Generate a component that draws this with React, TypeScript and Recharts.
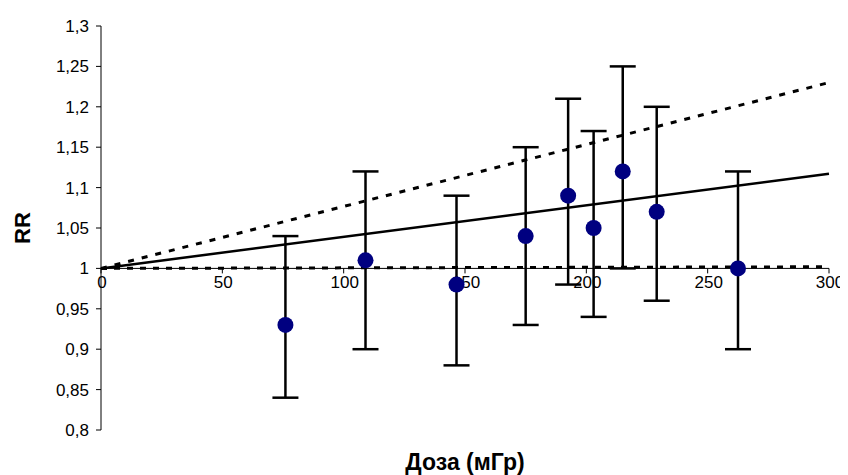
import React from "react";
import {
  ComposedChart,
  Scatter,
  ErrorBar,
  XAxis,
  YAxis,
  ReferenceLine,
  ReferenceDot,
} from "recharts";

// Dose (mGy) of each group
const doses = [76, 109, 146.5, 175, 192.5, 203, 215, 229, 262.5];
// Relative risk per group
const rrValues = [0.93, 1.01, 0.98, 1.04, 1.09, 1.05, 1.12, 1.07, 1.0];
// 95% confidence interval bounds
const ciLow = [0.84, 0.9, 0.88, 0.93, 0.98, 0.94, 1.0, 0.96, 0.9];
const ciHigh = [1.04, 1.12, 1.09, 1.15, 1.21, 1.17, 1.25, 1.2, 1.12];

// Linear fit and its confidence limits (dose endpoints)
const fitDose = [0, 300];
const fitCentral = [1, 1.117];
const fitUpper = [1, 1.23];
const fitLower = [1, 1.002];

const xTicks = [0, 50, 100, 150, 200, 250, 300];
const yTicks = [0.8, 0.85, 0.9, 0.95, 1, 1.05, 1.1, 1.15, 1.2, 1.25, 1.3];

const FONT = "'Liberation Sans', Arial, sans-serif";

const points = doses.map((d, i) => ({
  dose: d,
  rr: rrValues[i],
  err: [rrValues[i] - ciLow[i], ciHigh[i] - rrValues[i]],
}));

const seg = (ys: number[]) => [
  { x: fitDose[0], y: ys[0] },
  { x: fitDose[1], y: ys[1] },
];

const fmt = (v: number) => String(v).replace(".", ",");

const Dot = (props: any) => {
  const { cx, cy } = props;
  if (cx == null || cy == null) return null;
  return <circle cx={cx} cy={cy} r={8} fill="#000080" />;
};

const makeXTick = (value: number) => (props: any) => {
  const { cx, cy } = props;
  if (cx == null || cy == null) return null;
  return (
    <g>
      <line x1={cx} y1={cy} x2={cx} y2={cy + 5} stroke="#000" strokeWidth={1} />
      <text
        x={cx + 1}
        y={cy + 8}
        dy="0.71em"
        textAnchor="middle"
        fontFamily={FONT}
        fontSize={17}
        fill="#000"
      >
        {fmt(value)}
      </text>
    </g>
  );
};

const RRLabel = (props: any) => {
  const vb = props.viewBox || {};
  const x = (vb.x ?? 0) + 14;
  const y = (vb.y ?? 0) + (vb.height ?? 0) / 2;
  return (
    <text
      x={x}
      y={y}
      transform={`rotate(-90, ${x}, ${y})`}
      textAnchor="middle"
      dominantBaseline="central"
      fontFamily={FONT}
      fontSize={22}
      fontWeight="bold"
      fill="#000"
    >
      RR
    </text>
  );
};

export default function App() {
  return (
    <div style={{ width: 840, height: 467 }}>
      <ComposedChart
        width={840}
        height={467}
        data={points}
        margin={{ top: 18, right: 19, bottom: 0, left: 0 }}
      >
        <XAxis
          type="number"
          dataKey="dose"
          domain={[0, 300]}
          ticks={xTicks}
          tick={false}
          tickLine={false}
          axisLine={false}
          height={45}
          label={{
            value: "Доза (мГр)",
            position: "insideBottom",
            offset: 5,
            style: {
              fontFamily: FONT,
              fontSize: 23,
              fontWeight: "bold",
              fill: "#000",
            },
          }}
        />
        <YAxis
          type="number"
          dataKey="rr"
          domain={[0.8, 1.3]}
          ticks={yTicks}
          allowDataOverflow
          width={93}
          tickSize={5}
          tickMargin={7}
          tickFormatter={fmt}
          axisLine={{ stroke: "#000", strokeWidth: 1 }}
          tickLine={{ stroke: "#000", strokeWidth: 1 }}
          tick={{ fontFamily: FONT, fontSize: 17, fill: "#000" }}
          label={<RRLabel />}
        />
        <ReferenceLine y={1} stroke="#000" strokeWidth={1} />
        {xTicks.map((t) => (
          <ReferenceDot
            key={t}
            x={t}
            y={1}
            r={0}
            shape={makeXTick(t)}
          />
        ))}
        <ReferenceLine
          segment={seg(fitLower)}
          stroke="#000"
          strokeWidth={3}
          strokeDasharray="6 7"
        />
        <ReferenceLine
          segment={seg(fitUpper)}
          stroke="#000"
          strokeWidth={3}
          strokeDasharray="6 8"
        />
        <ReferenceLine segment={seg(fitCentral)} stroke="#000" strokeWidth={2.5} />
        <Scatter
          dataKey="rr"
          fill="#000080"
          shape={<Dot />}
          isAnimationActive={false}
        >
          <ErrorBar
            dataKey="err"
            direction="y"
            width={13}
            stroke="#000"
            strokeWidth={2.5}
          />
        </Scatter>
      </ComposedChart>
    </div>
  );
}
